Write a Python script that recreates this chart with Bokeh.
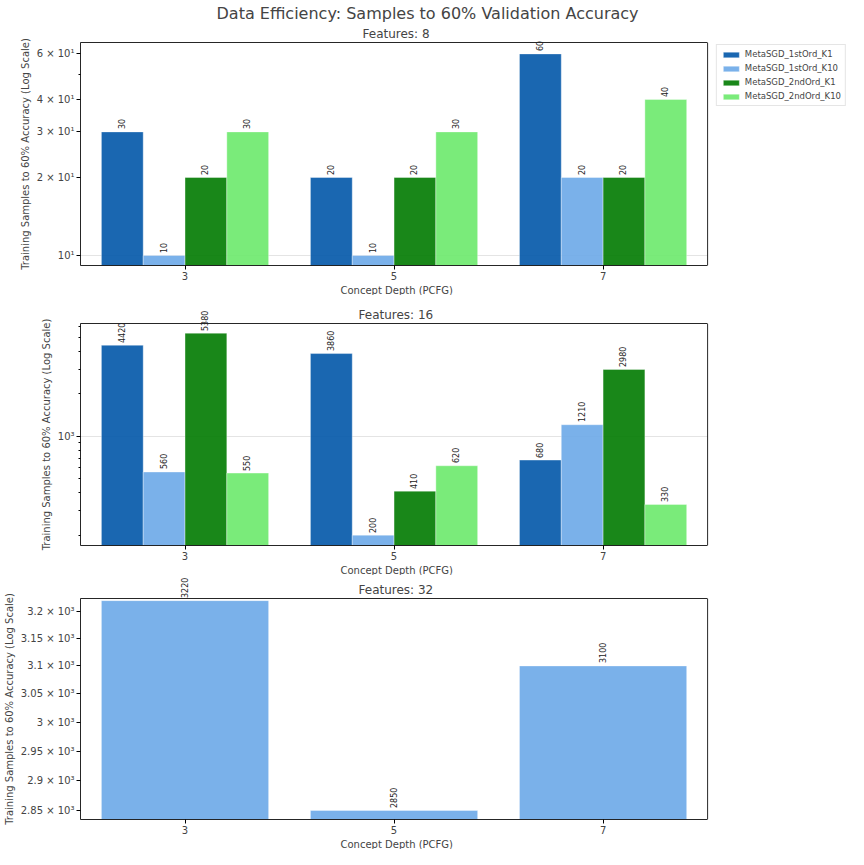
from math import pi
from bokeh.plotting import figure
from bokeh.models import (Range1d, FixedTicker, LabelSet, ColumnDataSource,
                          Legend, LegendItem, Title, LinearAxis, Span,
                          BoxAnnotation)
try:
    from bokeh.models import HTMLLabelSet as ValueLabels
except ImportError:
    ValueLabels = LabelSet
from bokeh.core.properties import value
from bokeh.layouts import column
from bokeh.embed import file_html
from bokeh.resources import INLINE

# ---------------- data ----------------
depths = ["3", "5", "7"]
series_names = ["MetaSGD_1stOrd_K1", "MetaSGD_1stOrd_K10",
                "MetaSGD_2ndOrd_K1", "MetaSGD_2ndOrd_K10"]
series_colors = ["#0156A9", "#6BA8E8", "#007A00", "#6BE96B"]

f8_1st_k1 = [30, 20, 60]
f8_1st_k10 = [10, 10, 20]
f8_2nd_k1 = [20, 20, 20]
f8_2nd_k10 = [30, 30, 40]

f16_1st_k1 = [4420, 3860, 680]
f16_1st_k10 = [560, 200, 1210]
f16_2nd_k1 = [5380, 410, 2980]
f16_2nd_k10 = [550, 620, 330]

f32_1st_k10 = [3220, 2850, 3100]

# y ticks / labels
p1_ticks = [10, 20, 30, 40, 60]
p1_tick_labels = ["10¹", "2 × 10¹", "3 × 10¹", "4 × 10¹", "6 × 10¹"]
p1_minor = [50]
p2_ticks = [1000]
p2_tick_labels = ["10³"]
p2_minor = [200, 300, 400, 500, 600, 700, 800, 900, 2000, 3000, 4000, 5000, 6000]
p3_ticks = [2850, 2900, 2950, 3000, 3050, 3100, 3150, 3200]
p3_tick_labels = ["2.85 × 10³", "2.9 × 10³", "2.95 × 10³", "3 × 10³",
                  "3.05 × 10³", "3.1 × 10³", "3.15 × 10³", "3.2 × 10³"]

p1_yrange = (9.15, 66.4)
p2_yrange = (169, 6300)
p3_yrange = (2835, 3224)

FONT = "DejaVu Sans"
W = 848
LEFT = 74            # left border (px)
BOX_PX = 632         # width of the axes box (px)
FRAME_PX = W - LEFT  # plotting frame reaches the right edge (room for legend)
X0, X1 = -0.5, 2.5   # axes box in data units
X_END = X0 + (X1 - X0) * FRAME_PX / BOX_PX
XLABEL_OFFSET = 260
TITLE_OFFSETS = {"Features: 8": 282, "Features: 16": 278, "Features: 32": 278}


def make_fig(height, yrange, border_top, title):
    p = figure(width=W, height=height, y_axis_type="log",
               x_range=Range1d(X0, X_END), y_range=Range1d(*yrange),
               output_backend="svg", toolbar_location=None,
               min_border_left=LEFT, min_border_right=0,
               min_border_top=border_top, min_border_bottom=0)
    p.outline_line_color = None
    p.xgrid.visible = False
    p.ygrid.grid_line_color = "#d8d8d8"
    p.ygrid.grid_line_alpha = 0.7
    for ax in (p.xaxis[0], p.yaxis[0]):
        ax.axis_line_color = "black"
        ax.axis_line_alpha = 0.85
        ax.major_tick_line_color = "black"
        ax.minor_tick_line_color = "black"
        ax.major_tick_in = 0
        ax.major_tick_out = 4
        ax.minor_tick_in = 0
        ax.minor_tick_out = 2
        ax.major_label_text_font = FONT
        ax.major_label_text_font_size = "10px"
        ax.axis_label_text_font = FONT
        ax.axis_label_text_font_size = "10px"
        ax.axis_label_text_font_style = "normal"
        ax.major_label_standoff = 2
        ax.axis_label_standoff = 3
    p.xaxis.bounds = (X0, X1)
    p.xaxis.ticker = FixedTicker(ticks=[0, 1, 2])
    p.xaxis.major_label_overrides = {i: d for i, d in enumerate(depths)}
    p.yaxis.axis_label = "Training Samples to 60% Accuracy (Log Scale)"
    # top spine of the axes box
    top = LinearAxis(ticker=FixedTicker(ticks=[]), bounds=(X0, X1),
                     axis_line_color="black", axis_line_alpha=0.85,
                     major_tick_line_color=None, minor_tick_line_color=None,
                     major_label_text_font_size="0px", major_label_standoff=0)
    p.add_layout(top, "above")
    # blank area right of the axes box (legend room): hide grid there
    p.add_layout(BoxAnnotation(left=X1, fill_color="white", fill_alpha=1.0,
                               line_color=None))
    # right spine of the axes box
    p.add_layout(Span(location=X1, dimension="height", line_color="black",
                      line_alpha=0.85, line_width=1))
    # panel title
    p.add_layout(Title(text=title, align="left", offset=TITLE_OFFSETS[title],
                       text_font=FONT, text_font_size="12px",
                       text_font_style="normal", standoff=3), "above")
    # x axis label
    p.add_layout(Title(text="Concept Depth (PCFG)", align="left",
                       offset=XLABEL_OFFSET, text_font=FONT,
                       text_font_size="10px", text_font_style="normal",
                       standoff=0), "below")
    return p


def set_yticks(p, ticks, labels, minor):
    p.yaxis.ticker = FixedTicker(ticks=ticks, minor_ticks=minor)
    p.yaxis.major_label_overrides = {t: l for t, l in zip(ticks, labels)}


def add_bars(p, series_list, colors, base, width):
    n = len(series_list)
    renderers = []
    lab_x, lab_y, lab_t = [], [], []
    for j, vals in enumerate(series_list):
        xs = [i + (j - (n - 1) / 2) * width for i in range(len(vals))]
        src = ColumnDataSource(dict(x=xs, top=vals, bottom=[base] * len(vals)))
        r = p.vbar(x="x", top="top", bottom="bottom", width=width, source=src,
                   fill_color=colors[j], fill_alpha=0.9,
                   line_color="white", line_alpha=0.45, line_width=0.8)
        renderers.append(r)
        lab_x += xs
        lab_y += vals
        lab_t += [str(v) for v in vals]
    lsrc = ColumnDataSource(dict(x=lab_x, y=lab_y, t=lab_t))
    labels = ValueLabels(x="x", y="y", text="t", source=lsrc, angle=pi / 2,
                         text_align="left", text_baseline="middle",
                         text_font=value(FONT), text_font_size="8px",
                         text_color="#222222", y_offset=2)
    p.add_layout(labels)
    return renderers


# ---------- panel 1 ----------
p1 = make_fig(295, p1_yrange, 36, "Features: 8")
p1.title.text = "Data Efficiency: Samples to 60% Validation Accuracy"
p1.title.align = "left"
p1.title.offset = 136
p1.title.text_font = FONT
p1.title.text_font_size = "16px"
p1.title.text_font_style = "normal"
p1.title.standoff = 2
set_yticks(p1, p1_ticks, p1_tick_labels, p1_minor)
p1.ygrid.ticker = FixedTicker(ticks=[10])
r1 = add_bars(p1, [f8_1st_k1, f8_1st_k10, f8_2nd_k1, f8_2nd_k10],
              series_colors, 1, 0.2)
legend = Legend(items=[LegendItem(label=n, renderers=[r])
                       for n, r in zip(series_names, r1)],
                location="top_right",
                label_text_font=FONT, label_text_font_size="8.5px",
                glyph_width=20, glyph_height=7, label_height=10,
                label_standoff=4, spacing=4, padding=4, margin=2,
                border_line_color="#cccccc", border_line_width=1,
                background_fill_color="white", background_fill_alpha=0.8)
p1.add_layout(legend)

# ---------- panel 2 ----------
p2 = make_fig(280, p2_yrange, 28, "Features: 16")
set_yticks(p2, p2_ticks, p2_tick_labels, p2_minor)
p2.ygrid.ticker = FixedTicker(ticks=[1000])
add_bars(p2, [f16_1st_k1, f16_1st_k10, f16_2nd_k1, f16_2nd_k10],
         series_colors, 1, 0.2)

# ---------- panel 3 ----------
p3 = make_fig(274, p3_yrange, 23, "Features: 32")
set_yticks(p3, p3_ticks, p3_tick_labels, [])
p3.ygrid.visible = False
add_bars(p3, [f32_1st_k10], [series_colors[1]], 1000, 0.8)

layout = column(p1, p2, p3, spacing=0)
open("out.html", "w").write(file_html(layout, INLINE))
